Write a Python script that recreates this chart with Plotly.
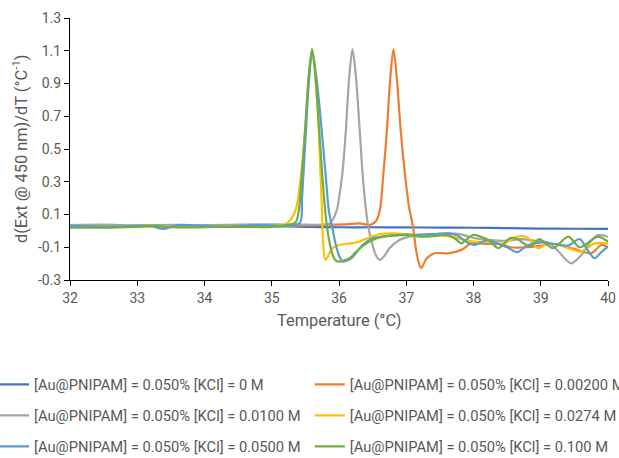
import plotly.graph_objects as go

# ---------------- data ----------------
names = [
    "[Au@PNIPAM] = 0.050% [KCl] = 0 M",
    "[Au@PNIPAM] = 0.050% [KCl] = 0.00200 M",
    "[Au@PNIPAM] = 0.050% [KCl] = 0.0100 M",
    "[Au@PNIPAM] = 0.050% [KCl] = 0.0274 M",
    "[Au@PNIPAM] = 0.050% [KCl] = 0.0500 M",
    "[Au@PNIPAM] = 0.050% [KCl] = 0.100 M",
]
colors = ["#4472C4", "#ED7D31", "#A5A5A5", "#FFC000", "#5B9BD5", "#70AD47"]

t_0M = [32.0, 32.5, 33.0, 33.5, 34.0, 34.5, 35.0, 35.5, 36.0, 36.5, 37.0, 37.5, 38.0, 38.5, 39.0, 39.5, 40.0]
d_0M = [0.030, 0.029, 0.030, 0.028, 0.029, 0.028, 0.028, 0.025, 0.022, 0.022, 0.021, 0.020, 0.019, 0.017, 0.014, 0.013, 0.012]

t_002 = [32.0, 32.5, 33.0, 33.5, 34.0, 34.5, 35.0, 35.5, 35.8, 36.1, 36.3, 36.45, 36.52, 36.56, 36.61, 36.66, 36.71,
         36.76, 36.81, 36.86, 36.92, 36.98, 37.04, 37.1, 37.16, 37.22, 37.3, 37.42, 37.62, 37.82, 37.97, 38.2, 38.4,
         38.55, 38.8, 39.0, 39.2, 39.5, 39.75, 39.9, 40.0]
d_002 = [0.030, 0.032, 0.030, 0.031, 0.030, 0.031, 0.030, 0.033, 0.038, 0.040, 0.046, 0.036, 0.048, 0.066, 0.13, 0.35, 0.60,
         0.92, 1.11, 0.93, 0.60, 0.35, 0.15, 0.026, -0.15, -0.228, -0.17, -0.137, -0.137, -0.116, -0.076, -0.08, -0.08,
         -0.10, -0.10, -0.09, -0.08, -0.11, -0.137, -0.086, -0.10]

t_010 = [32.0, 32.5, 33.0, 33.5, 34.0, 34.5, 35.0, 35.5, 35.86, 35.96, 36.0, 36.05, 36.1, 36.15, 36.2, 36.25, 36.31,
         36.36, 36.43, 36.5, 36.55, 36.61, 36.68, 36.75, 36.9, 37.05, 37.3, 37.62, 37.8, 38.02, 38.25, 38.5, 38.7,
         38.9, 39.1, 39.25, 39.45, 39.6, 39.75, 39.85, 40.0]
d_010 = [0.035, 0.038, 0.034, 0.037, 0.035, 0.038, 0.040, 0.038, 0.046, 0.117, 0.20, 0.35, 0.60, 0.93, 1.11, 0.95, 0.60,
         0.30, 0.04, -0.09, -0.15, -0.177, -0.15, -0.106, -0.056, -0.035, -0.025, -0.015, -0.02, -0.045, -0.056, -0.06, -0.05,
         -0.06, -0.07, -0.12, -0.198, -0.15, -0.06, -0.025, -0.035]

t_0274 = [32.0, 32.5, 33.0, 33.5, 34.0, 34.5, 35.0, 35.2, 35.3, 35.37, 35.45, 35.5, 35.55, 35.6, 35.65, 35.7, 35.74,
          35.8, 35.9, 36.0, 36.2, 36.3, 36.45, 36.6, 36.8, 37.0, 37.2, 37.45, 37.65, 37.77, 38.0, 38.25, 38.45,
          38.65, 38.8, 38.96, 39.11, 39.3, 39.6, 39.8, 40.0]
d_0274 = [0.025, 0.024, 0.026, 0.025, 0.026, 0.025, 0.028, 0.040, 0.080, 0.150, 0.40, 0.62, 0.92, 1.11, 0.92, 0.60, 0.20,
          -0.177, -0.106, -0.086, -0.075, -0.066, -0.04, -0.02, -0.015, -0.02, -0.025, -0.025, -0.035, -0.045, -0.066, -0.066, -0.076,
          -0.035, -0.04, -0.106, -0.076, -0.09, -0.127, -0.076, -0.076]

t_050 = [32.0, 32.5, 33.0, 33.2, 33.4, 33.6, 34.0, 34.4, 34.8, 35.2, 35.42, 35.45, 35.5, 35.55, 35.6, 35.65, 35.7,
         35.75, 35.8, 35.85, 35.9, 35.95, 36.0, 36.06, 36.13, 36.21, 36.3, 36.41, 36.5, 36.65, 36.9, 37.1, 37.4, 37.62,
         37.77, 37.9, 38.02, 38.12, 38.22, 38.37, 38.5, 38.65, 38.8, 39.0, 39.2, 39.4, 39.58, 39.7, 39.8, 39.9, 40.0]
d_050 = [0.030, 0.025, 0.030, 0.030, 0.012, 0.035, 0.030, 0.025, 0.035, 0.030, 0.050, 0.20, 0.55, 0.90, 1.10, 0.98, 0.80,
         0.58, 0.35, 0.12, 0.02, -0.08, -0.15, -0.188, -0.18, -0.157, -0.11, -0.066, -0.045, -0.035, -0.025, -0.025, -0.02, -0.015,
         -0.03, -0.07, -0.086, -0.07, -0.056, -0.08, -0.10, -0.13, -0.09, -0.07, -0.08, -0.09, -0.05, -0.12, -0.167, -0.13, -0.096]

t_100 = [32.0, 32.5, 33.0, 33.3, 33.5, 34.0, 34.5, 35.0, 35.35, 35.4, 35.45, 35.5, 35.55, 35.6, 35.65, 35.7, 35.75,
         35.8, 35.85, 35.9, 35.95, 36.01, 36.08, 36.16, 36.25, 36.33, 36.41, 36.5, 36.65, 36.85, 37.05, 37.2, 37.32,
         37.45, 37.62, 37.72, 37.82, 37.9, 37.99, 38.1, 38.22, 38.37, 38.45, 38.54, 38.65, 38.84, 38.98, 39.18, 39.41,
         39.58, 39.85, 40.0]
d_100 = [0.020, 0.020, 0.025, 0.030, 0.022, 0.022, 0.025, 0.025, 0.050, 0.12, 0.35, 0.65, 0.95, 1.11, 0.95, 0.65, 0.35,
         0.10, -0.05, -0.14, -0.18, -0.188, -0.18, -0.167, -0.13, -0.10, -0.076, -0.055, -0.035, -0.028, -0.025, -0.035, -0.035,
         -0.03, -0.025, -0.045, -0.076, -0.05, -0.025, -0.035, -0.056, -0.106, -0.08, -0.045, -0.05, -0.096, -0.05, -0.106, -0.035,
         -0.10, -0.035, -0.066]

series_t = [t_0M, t_002, t_010, t_0274, t_050, t_100]
series_d = [d_0M, d_002, d_010, d_0274, d_050, d_100]

x_ticks = [32, 33, 34, 35, 36, 37, 38, 39, 40]
y_ticks = [-0.3, -0.1, 0.1, 0.3, 0.5, 0.7, 0.9, 1.1, 1.3]
x_title = "Temperature (°C)"
y_title = "d(Ext @ 450 nm)/dT (°C<sup>-1</sup>)"

# ---------------- figure ----------------
W, H = 619, 458
ML, MR, MT, MB = 70, 10.5, 17.7, 178
PW, PH = W - ML - MR, H - MT - MB
FONT = "Roboto, Arial, sans-serif"
TXT = "#595959"

fig = go.Figure()
legend_ids = ["legend", "legend2", "legend3", "legend4", "legend5", "legend6"]
for i in range(6):
    fig.add_trace(go.Scatter(
        x=series_t[i], y=series_d[i], mode="lines", name=names[i],
        line=dict(color=colors[i], width=2.2, shape="spline", smoothing=0.8),
        legend=legend_ids[i], showlegend=True,
    ))

# legend entry positions (figure px): row centres and column box starts
row_y = [385, 416, 447]
col_x = [-6, 310]
legends = {}
for i, lid in enumerate(legend_ids):
    r, c = i // 2, i % 2
    legends[lid] = dict(
        x=(col_x[c] - ML) / PW, y=(H - MB - row_y[r]) / PH, xref="paper", yref="paper",
        xanchor="left", yanchor="middle", orientation="v",
        bgcolor="rgba(0,0,0,0)", borderwidth=0,
        font=dict(family=FONT, size=14.7, color=TXT),
        itemwidth=30,
    )

fig.update_layout(
    width=W, height=H,
    margin=dict(l=ML, r=MR, t=MT, b=MB, autoexpand=False),
    paper_bgcolor="white", plot_bgcolor="white",
    font=dict(family=FONT, size=14, color=TXT),
    xaxis=dict(
        range=[32, 40], tickvals=x_ticks, ticktext=[str(v) for v in x_ticks],
        showgrid=False, zeroline=False, showline=True, linecolor="#000000", linewidth=1,
        ticks="outside", ticklen=5, tickcolor="#000000", automargin=False,
        tickfont=dict(family=FONT, size=14, color=TXT),
    ),
    yaxis=dict(
        range=[-0.3, 1.3], tickvals=y_ticks, ticktext=[f"{v:.1f}" for v in y_ticks],
        showgrid=False, zeroline=False, showline=True, linecolor="#000000", linewidth=1,
        ticks="outside", ticklen=5, tickcolor="#000000", automargin=False,
        tickfont=dict(family=FONT, size=14, color=TXT),
    ),
    annotations=[
        dict(text=x_title, xref="paper", yref="paper", x=0.5, y=(H - MB - 321) / PH,
             xanchor="center", yanchor="middle", showarrow=False,
             font=dict(family=FONT, size=16.4, color=TXT)),
        dict(text=y_title, xref="paper", yref="paper", x=(20 - ML) / PW, y=0.5,
             xanchor="center", yanchor="middle", showarrow=False, textangle=-90,
             font=dict(family=FONT, size=16.4, color=TXT)),
    ],
    **legends,
)

fig.write_html("out.html", config={"displayModeBar": False},
               post_script="document.body.style.margin='0';")
